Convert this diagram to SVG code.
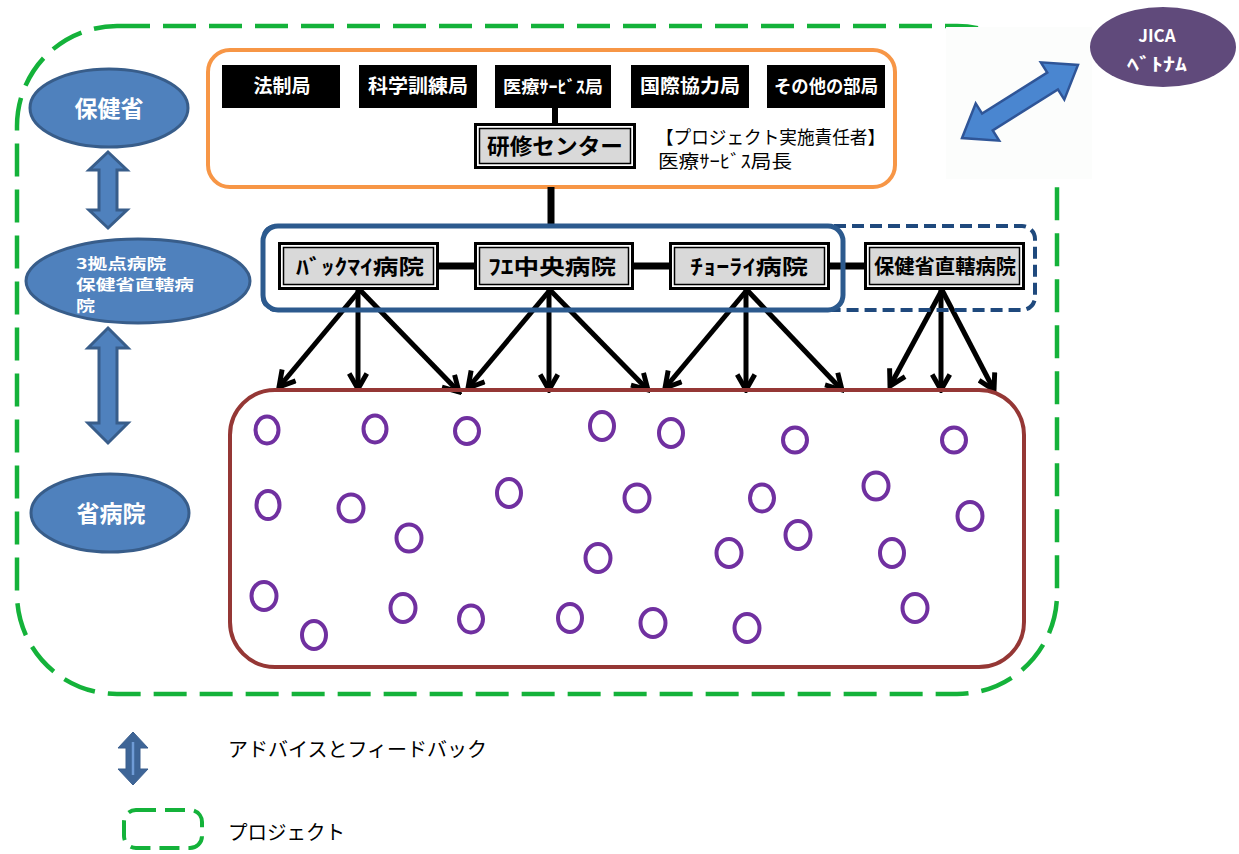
<svg xmlns="http://www.w3.org/2000/svg" width="1239" height="854" viewBox="0 0 1239 854">
<style>
.jp{font-family:"Noto Sans CJK JP","Noto Sans CJK SC",sans-serif;}
.b{font-weight:bold;}
.wt{fill:#fff;}
.blk{fill:#000;}
.conn{stroke:#000;stroke-width:5;fill:none;marker-end:url(#ah);}
.bar{stroke:#000;stroke-width:7;}
.ell{fill:#4F81BD;stroke:#385D8A;stroke-width:3;}
.dbl{fill:#4F81BD;stroke:#385D8A;stroke-width:3;stroke-linejoin:miter;}
.circ{fill:none;stroke:#7030A0;stroke-width:4;}
.dept{fill:#000;}
</style>
<defs>
<marker id="ah" viewBox="0 0 20 20" refX="17" refY="10" markerWidth="22" markerHeight="22" markerUnits="userSpaceOnUse" orient="auto">
<path d="M3,2 L17,10 L3,18" fill="none" stroke="#000" stroke-width="4.5"/>
</marker>
</defs>
<rect width="1239" height="854" fill="#fff"/>

<g id="project-border">
<rect x="17" y="26" width="1040" height="668" rx="100" ry="100" fill="none" stroke="#14B23A" stroke-width="4.5" stroke-dasharray="33 13"/>
</g>

<g id="jica-link">
<rect x="946" y="27" width="146" height="152" fill="#fcfdfc"/>
<polygon transform="translate(1020,101.5) rotate(-32.2)" points="-68.5,0 -38.5,-22 -38.5,-10 38.5,-10 38.5,-22 68.5,0 38.5,22 38.5,10 -38.5,10 -38.5,22" fill="#4A86D0" stroke="#2F5597" stroke-width="2.5"/>
</g>

<g id="jica">
<ellipse cx="1163" cy="47" rx="73" ry="40" fill="#604A7B"/>
<text class="jp b wt" x="1157" y="42" font-size="17" text-anchor="middle">JICA</text>
<text class="jp b wt" x="1157" y="71" font-size="18" text-anchor="middle" textLength="60" lengthAdjust="spacingAndGlyphs">ﾍﾞﾄﾅﾑ</text>
</g>

<g id="moh-box">
<rect x="208" y="50" width="687" height="137" rx="22" ry="22" fill="#fff" stroke="#F79646" stroke-width="4"/>
<rect class="dept" x="222" y="65" width="118" height="43"/>
<text class="jp b wt" x="282" y="93" font-size="19" text-anchor="middle">法制局</text>
<rect class="dept" x="359" y="65" width="118" height="43"/>
<text class="jp b wt" x="418" y="93" font-size="19" text-anchor="middle" textLength="100" lengthAdjust="spacingAndGlyphs">科学訓練局</text>
<rect class="dept" x="495" y="65" width="116" height="43"/>
<text class="jp b wt" x="553" y="93" font-size="17" text-anchor="middle" textLength="100" lengthAdjust="spacingAndGlyphs">医療ｻｰﾋﾞｽ局</text>
<rect class="dept" x="631" y="65" width="118" height="43"/>
<text class="jp b wt" x="690" y="93" font-size="19" text-anchor="middle" textLength="100" lengthAdjust="spacingAndGlyphs">国際協力局</text>
<rect class="dept" x="767" y="65" width="118" height="43"/>
<text class="jp b wt" x="826" y="93" font-size="18" text-anchor="middle" textLength="104" lengthAdjust="spacingAndGlyphs">その他の部局</text>
<line x1="555" y1="108" x2="555" y2="125" stroke="#000" stroke-width="6"/>
<rect x="474" y="123" width="162" height="46" fill="#000"/>
<rect x="477" y="126" width="156" height="40" fill="#fff"/>
<rect x="479.5" y="128.5" width="151" height="35" fill="#D9D9D9" stroke="#000" stroke-width="1.5"/>
<text class="jp b blk" x="555" y="154" font-size="22" text-anchor="middle" textLength="136" lengthAdjust="spacingAndGlyphs">研修センター</text>
<text class="jp blk" x="656" y="144" font-size="18" textLength="229" lengthAdjust="spacingAndGlyphs">【プロジェクト実施責任者】</text>
<text class="jp blk" x="658" y="168" font-size="18" textLength="134" lengthAdjust="spacingAndGlyphs">医療ｻｰﾋﾞｽ局長</text>
</g>

<g id="connectors">
<line class="bar" x1="551" y1="187" x2="551" y2="228" stroke-width="8"/>
<line class="bar" x1="439" y1="266" x2="475" y2="266"/>
<line class="bar" x1="634" y1="266" x2="669" y2="266"/>
<line class="bar" x1="830" y1="266" x2="864" y2="266"/>
<line class="conn" x1="360" y1="290" x2="279" y2="387"/>
<line class="conn" x1="358" y1="290" x2="358" y2="389"/>
<line class="conn" x1="360" y1="290" x2="459" y2="392"/>
<line class="conn" x1="550" y1="290" x2="468" y2="388"/>
<line class="conn" x1="549" y1="290" x2="549" y2="390"/>
<line class="conn" x1="550" y1="290" x2="648" y2="390"/>
<line class="conn" x1="747" y1="290" x2="665" y2="388"/>
<line class="conn" x1="746" y1="290" x2="746" y2="390"/>
<line class="conn" x1="747" y1="290" x2="842" y2="390"/>
<line class="conn" x1="942" y1="290" x2="890" y2="386"/>
<line class="conn" x1="941" y1="290" x2="941" y2="390"/>
<line class="conn" x1="942" y1="290" x2="994" y2="390"/>
</g>

<g id="hospital-groups">
<rect x="263" y="226" width="772" height="84" rx="13" ry="13" fill="none" stroke="#1F497D" stroke-width="4" stroke-dasharray="12 6"/>
<rect x="263" y="226" width="580" height="84" rx="15" ry="15" fill="none" stroke="#2C5A8E" stroke-width="5"/>
</g>

<g id="hosp-bachmai">
<rect x="278" y="242" width="161" height="48" fill="#000"/>
<rect x="281" y="245" width="155" height="42" fill="#fff"/>
<rect x="283.5" y="247.5" width="150" height="37" fill="#D9D9D9" stroke="#000" stroke-width="1.5"/>
<text class="jp b blk" x="360" y="274" font-size="21" text-anchor="middle" textLength="128" lengthAdjust="spacingAndGlyphs">ﾊﾞｯｸﾏｲ病院</text>
</g>
<g id="hosp-hue">
<rect x="474" y="242" width="160" height="48" fill="#000"/>
<rect x="477" y="245" width="154" height="42" fill="#fff"/>
<rect x="479.5" y="247.5" width="149" height="37" fill="#D9D9D9" stroke="#000" stroke-width="1.5"/>
<text class="jp b blk" x="552" y="274" font-size="21" text-anchor="middle" textLength="128" lengthAdjust="spacingAndGlyphs">ﾌｴ中央病院</text>
</g>
<g id="hosp-choray">
<rect x="669" y="242" width="161" height="48" fill="#000"/>
<rect x="672" y="245" width="155" height="42" fill="#fff"/>
<rect x="674.5" y="247.5" width="150" height="37" fill="#D9D9D9" stroke="#000" stroke-width="1.5"/>
<text class="jp b blk" x="749" y="274" font-size="21" text-anchor="middle" textLength="118" lengthAdjust="spacingAndGlyphs">ﾁｮｰﾗｲ病院</text>
</g>
<g id="hosp-moh-direct">
<rect x="864" y="242" width="161" height="48" fill="#000"/>
<rect x="867" y="245" width="155" height="42" fill="#fff"/>
<rect x="869.5" y="247.5" width="150" height="37" fill="#D9D9D9" stroke="#000" stroke-width="1.5"/>
<text class="jp b blk" x="945" y="274" font-size="20" text-anchor="middle" textLength="142" lengthAdjust="spacingAndGlyphs">保健省直轄病院</text>
</g>

<g id="provincial-hospitals">
<rect x="230" y="390" width="794" height="277" rx="45" ry="45" fill="none" stroke="#953735" stroke-width="4"/>
<g class="circ">
<ellipse cx="267" cy="430" rx="11.5" ry="13.5"/>
<ellipse cx="375" cy="429" rx="11.5" ry="13.5"/>
<ellipse cx="467" cy="431" rx="12" ry="13"/>
<ellipse cx="602" cy="426" rx="12" ry="14"/>
<ellipse cx="671" cy="433" rx="12" ry="14"/>
<ellipse cx="795" cy="440" rx="12" ry="12.5"/>
<ellipse cx="954" cy="440" rx="12" ry="12.5"/>
<ellipse cx="268" cy="505" rx="11.5" ry="14"/>
<ellipse cx="351" cy="508" rx="12.5" ry="13.5"/>
<ellipse cx="409" cy="538" rx="12.5" ry="13.5"/>
<ellipse cx="509" cy="493" rx="12" ry="14"/>
<ellipse cx="637" cy="498" rx="12.5" ry="13.5"/>
<ellipse cx="762" cy="498" rx="12" ry="13.5"/>
<ellipse cx="876" cy="486" rx="12.5" ry="13.5"/>
<ellipse cx="970" cy="516" rx="12.5" ry="14"/>
<ellipse cx="598" cy="558" rx="12.5" ry="14"/>
<ellipse cx="729" cy="553" rx="12.5" ry="14"/>
<ellipse cx="798" cy="535" rx="12.5" ry="14"/>
<ellipse cx="892" cy="553" rx="12" ry="14"/>
<ellipse cx="264" cy="596" rx="12.5" ry="14"/>
<ellipse cx="314" cy="635" rx="12" ry="14"/>
<ellipse cx="403" cy="608" rx="12.5" ry="14"/>
<ellipse cx="471" cy="619" rx="12" ry="13.5"/>
<ellipse cx="570" cy="618" rx="12" ry="14"/>
<ellipse cx="653" cy="623" rx="12.5" ry="14"/>
<ellipse cx="747" cy="628" rx="12.5" ry="14"/>
<ellipse cx="915" cy="608" rx="12.5" ry="14"/>
</g>
</g>

<g id="moh">
<ellipse class="ell" cx="109" cy="108" rx="79" ry="39"/>
<text class="jp b wt" x="109" y="117" font-size="23" text-anchor="middle">保健省</text>
</g>
<g id="arrow-moh-hosp">
<polygon class="dbl" points="108,152 127,170 117,170 117,210 127,210 108,228 89,210 99,210 99,170 89,170"/>
</g>
<g id="core-hospitals">
<ellipse class="ell" cx="138" cy="281" rx="112" ry="42"/>
<text class="jp b wt" x="76" y="269" font-size="14.5" textLength="90" lengthAdjust="spacingAndGlyphs">3拠点病院</text>
<text class="jp b wt" x="76" y="290" font-size="14.5" textLength="118" lengthAdjust="spacingAndGlyphs">保健省直轄病</text>
<text class="jp b wt" x="76" y="311" font-size="14.5" textLength="19" lengthAdjust="spacingAndGlyphs">院</text>
</g>
<g id="arrow-hosp-prov">
<polygon class="dbl" points="108,328 128,348 117,348 117,423 128,423 108,443 88,423 99,423 99,348 88,348"/>
</g>
<g id="prov-hospital">
<ellipse class="ell" cx="110" cy="513" rx="79" ry="39"/>
<text class="jp b wt" x="111" y="522" font-size="23" text-anchor="middle">省病院</text>
</g>

<g id="legend">
<polygon points="133,732 148,748 140,748 140,769 148,769 133,785 118,769 126,769 126,748 118,748" fill="#3E6597" stroke="#3A5E8E" stroke-width="1"/>
<line x1="133" y1="742" x2="133" y2="775" stroke="#6F9BD6" stroke-width="2.5"/>
<text class="jp blk" x="228" y="757" font-size="20" textLength="259" lengthAdjust="spacingAndGlyphs">アドバイスとフィードバック</text>
<rect x="124" y="810" width="78" height="38" rx="12" ry="12" fill="none" stroke="#14B23A" stroke-width="4" stroke-dasharray="20 9"/>
<text class="jp blk" x="228" y="840" font-size="20" textLength="117" lengthAdjust="spacingAndGlyphs">プロジェクト</text>
</g>
</svg>
